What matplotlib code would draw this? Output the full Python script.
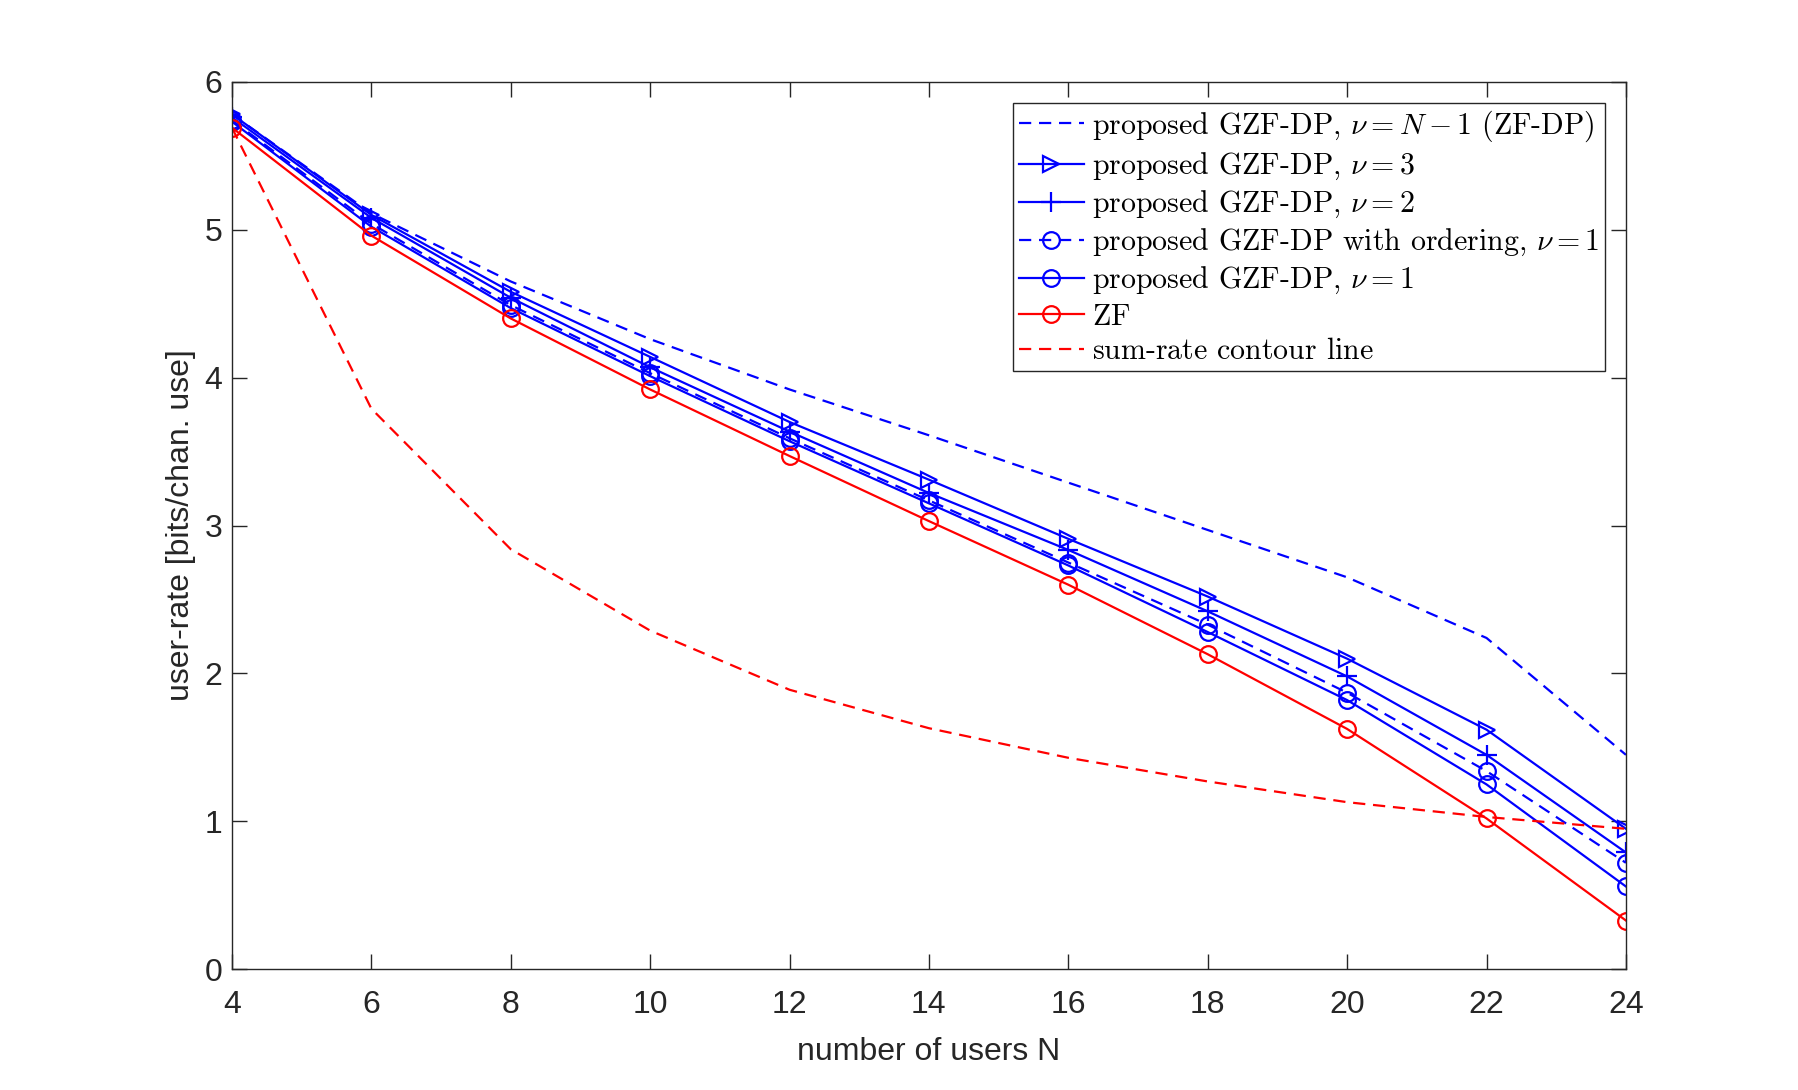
import matplotlib
matplotlib.use("Agg")
import matplotlib.pyplot as plt

# number of users
N = [4, 6, 8, 10, 12, 14, 16, 18, 20, 22, 24]

# user-rate [bits/chan. use]
zfdp = [5.78, 5.11, 4.65, 4.26, 3.92, 3.61, 3.29, 2.97, 2.65, 2.24, 1.45]
nu3 = [5.78, 5.10, 4.58, 4.14, 3.70, 3.31, 2.91, 2.52, 2.10, 1.62, 0.95]
nu2 = [5.76, 5.08, 4.54, 4.07, 3.635, 3.22, 2.835, 2.42, 1.98, 1.45, 0.79]
nu1_ord = [5.74, 5.04, 4.49, 4.03, 3.59, 3.17, 2.75, 2.33, 1.87, 1.34, 0.72]
nu1 = [5.73, 5.02, 4.47, 4.01, 3.57, 3.15, 2.73, 2.28, 1.82, 1.25, 0.56]
zf = [5.69, 4.96, 4.40, 3.92, 3.47, 3.03, 2.60, 2.13, 1.625, 1.02, 0.33]
contour = [5.69, 3.79, 2.84, 2.29, 1.89, 1.63, 1.43, 1.27, 1.13, 1.03, 0.95]

labels = [r'proposed GZF-DP, $\nu=N-1$ (ZF-DP)',
          r'proposed GZF-DP, $\nu=3$',
          r'proposed GZF-DP, $\nu=2$',
          r'proposed GZF-DP with ordering, $\nu=1$',
          r'proposed GZF-DP, $\nu=1$',
          r'ZF$\,$',
          r'sum-rate contour line$\,$']

plt.rcParams['font.family'] = ['Liberation Sans', 'DejaVu Sans']
plt.rcParams['mathtext.fontset'] = 'cm'

dark = (0.15, 0.15, 0.15)
lw = 1.6
ms = 12
mew = 1.6
dash = (5.5, 3.5)

fig = plt.figure(figsize=(17.98, 10.90), dpi=100)
ax = fig.add_axes([0.129, 0.1107, 0.7753, 0.8143])

ax.plot(N, zfdp, color='b', lw=lw, ls='--', dashes=dash, label=labels[0])
ax.plot(N, nu3, color='b', lw=lw, marker='>', ms=ms, mfc='none', mew=mew,
        label=labels[1])
ax.plot(N, nu2, color='b', lw=lw, marker='+', ms=ms * 1.2, mew=mew,
        label=labels[2])
ax.plot(N, nu1_ord, color='b', lw=lw, ls='--', dashes=dash, marker='o', ms=ms,
        mfc='none', mew=mew, label=labels[3])
ax.plot(N, nu1, color='b', lw=lw, marker='o', ms=ms, mfc='none', mew=mew,
        label=labels[4])
ax.plot(N, zf, color='r', lw=lw, marker='o', ms=ms, mfc='none', mew=mew,
        label=labels[5])
ax.plot(N, contour, color='r', lw=lw, ls='--', dashes=dash, label=labels[6])

ax.set_xlim(4, 24)
ax.set_ylim(0, 6)
ax.set_xticks(range(4, 25, 2))
ax.set_yticks(range(0, 7))
ax.tick_params(direction='in', length=11, width=1, colors=dark,
               labelsize=23, top=True, right=True)
ax.tick_params(axis='x', pad=15)
ax.tick_params(axis='y', pad=7)
for s in ax.spines.values():
    s.set_color(dark)
    s.set_linewidth(1)

ax.set_xlabel('number of users N', fontsize=23, color=dark, labelpad=12)
ax.set_ylabel('user-rate [bits/chan. use]', fontsize=23, color=dark, labelpad=6)

leg = ax.legend(loc='upper right', prop={'family': 'cmr10', 'size': 21.5},
                fancybox=False, framealpha=1, edgecolor=dark,
                borderaxespad=0.7, handlelength=2.2, handletextpad=0.25,
                labelspacing=0.23, borderpad=0.2)
leg.get_frame().set_linewidth(1)

fig.savefig('out.png', dpi=100, facecolor='white')
